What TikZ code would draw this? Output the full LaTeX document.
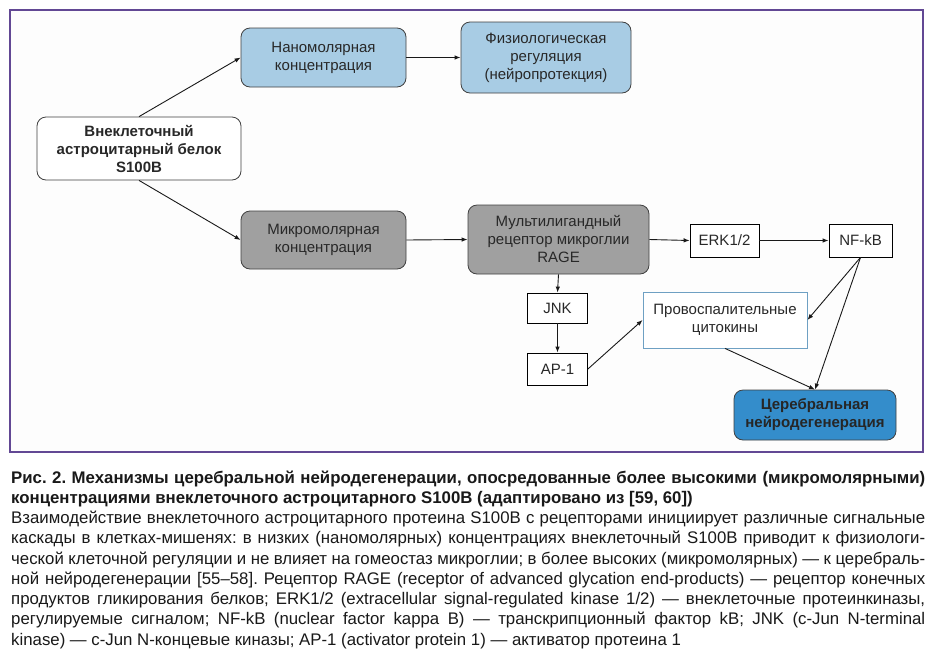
\documentclass[tikz,border=0pt]{standalone}
\usepackage{fontspec}
\setmainfont{Liberation Sans}
\usetikzlibrary{arrows.meta}
\frenchspacing
\definecolor{framec}{RGB}{98,72,148}
\definecolor{lblue}{RGB}{168,204,228}
\definecolor{mgrey}{RGB}{160,160,160}
\definecolor{dblue}{RGB}{52,141,203}
\definecolor{proc}{RGB}{110,160,195}
\definecolor{txt}{RGB}{40,40,40}
\definecolor{capt}{RGB}{25,25,25}
\begin{document}
\begin{tikzpicture}[x=1pt,y=-1pt,
  box/.style={draw=black!75,line width=0.8pt,inner sep=0pt,align=center,text=txt,
    font=\fontsize{15}{18}\selectfont},
  rbox/.style={box,rounded corners=9pt},
  sbox/.style={box,draw=black,line width=0.8pt},
  conn/.style={-{Latex[length=6pt,width=4.5pt]},line width=0.9pt,black!90},
  capline/.style={anchor=base west,inner sep=0pt,text=capt,font=\fontsize{16.8}{20}\selectfont}
]
\useasboundingbox (0,0) rectangle (934,662);
\fill[white] (0,0) rectangle (934,662);
\draw[framec,line width=2pt,fill=white!97!black!30] (10,10) rectangle (923,452);

\node[rbox,fill=white,minimum width=204pt,minimum height=63pt] (vnek) at (139,148.5)
  {\bfseries Внеклеточный\\\bfseries астроцитарный белок\\\bfseries S100B};
\node[rbox,fill=lblue,minimum width=165pt,minimum height=59pt] (nano) at (323.5,57.5)
  {Наномолярная\\концентрация};
\node[rbox,fill=lblue,minimum width=170pt,minimum height=71pt] (fiz) at (546,57.5)
  {Физиологическая\\регуляция\\(нейропротекция)};
\node[rbox,fill=mgrey,minimum width=165pt,minimum height=58pt] (micro) at (323.5,240)
  {Микромолярная\\концентрация};
\node[rbox,fill=mgrey,minimum width=181pt,minimum height=69pt] (rage) at (558.5,239.5)
  {Мультилигандный\\рецептор микроглии\\RAGE};
\node[sbox,fill=white,minimum width=69pt,minimum height=33pt] (erk) at (724.5,240.5) {ERK1/2};
\node[sbox,fill=white,minimum width=63pt,minimum height=33pt] (nfkb) at (860.5,240.5) {NF-kB};
\node[sbox,fill=white,minimum width=60pt,minimum height=30pt] (jnk) at (557.5,308) {JNK};
\node[sbox,fill=white,minimum width=60pt,minimum height=32pt] (ap1) at (557.5,369) {AP-1};
\node[box,draw=proc,fill=white,minimum width=164pt,minimum height=56pt] (pro) at (725,320)
  {Провоспалительные\\цитокины};
\node[rbox,fill=dblue,minimum width=162pt,minimum height=50pt,text=black!85] (cereb) at (815,415)
  {\bfseries Церебральная\\\bfseries нейродегенерация};

\draw[conn] (vnek.north) -- (nano.west);
\draw[conn] (vnek.south) -- (micro.west);
\draw[conn] (nano.east) -- (fiz.west);
\draw[conn] (micro.east) -- (rage.west);
\draw[conn] (rage.east) -- (erk.west);
\draw[conn] (erk.east) -- (nfkb.west);
\draw[conn] (rage.south) -- (jnk.north);
\draw[conn] (jnk.south) -- (ap1.north);
\draw[conn] (ap1.east) -- (pro.west);
\draw[conn] (nfkb.south) -- (pro.east);
\draw[conn] (nfkb.south) -- (cereb.north);
\draw[conn] (pro.south) -- (cereb.north);

\node[capline,font=\fontsize{16.8}{20}\selectfont\bfseries] (c1) at (11,483)
  {\makebox[914pt][s]{Рис. 2. Механизмы церебральной нейродегенерации, опосредованные более высокими (микромолярными)}};
\node[capline,font=\fontsize{16.8}{20}\selectfont\bfseries] (c2) at (11,503.25)
  {концентрациями внеклеточного астроцитарного S100B (адаптировано из [59, 60])};
\node[capline] (c3) at (11,523.5)
  {\makebox[914pt][s]{Взаимодействие внеклеточного астроцитарного протеина S100B с рецепторами инициирует различные сигнальные}};
\node[capline] (c4) at (11,543.75)
  {\makebox[914pt][s]{каскады в клетках-мишенях: в низких (наномолярных) концентрациях внеклеточный S100B приводит к физиологи-}};
\node[capline] (c5) at (11,564)
  {\makebox[914pt][s]{ческой клеточной регуляции и не влияет на гомеостаз микроглии; в более высоких (микромолярных) — к церебраль-}};
\node[capline] (c6) at (11,584.25)
  {\makebox[914pt][s]{ной нейродегенерации [55–58]. Рецептор RAGE (receptor of advanced glycation end-products) — рецептор конечных}};
\node[capline] (c7) at (11,604.5)
  {\makebox[914pt][s]{продуктов гликирования белков; ERK1/2 (extracellular signal-regulated kinase 1/2) — внеклеточные протеинкиназы,}};
\node[capline] (c8) at (11,624.75)
  {\makebox[914pt][s]{регулируемые сигналом; NF-kB (nuclear factor kappa B) — транскрипционный фактор kB; JNK (c-Jun N-terminal}};
\node[capline] (c9) at (11,645)
  {kinase) — c-Jun N-концевые киназы; AP-1 (activator protein 1) — активатор протеина 1};
\end{tikzpicture}
\end{document}
